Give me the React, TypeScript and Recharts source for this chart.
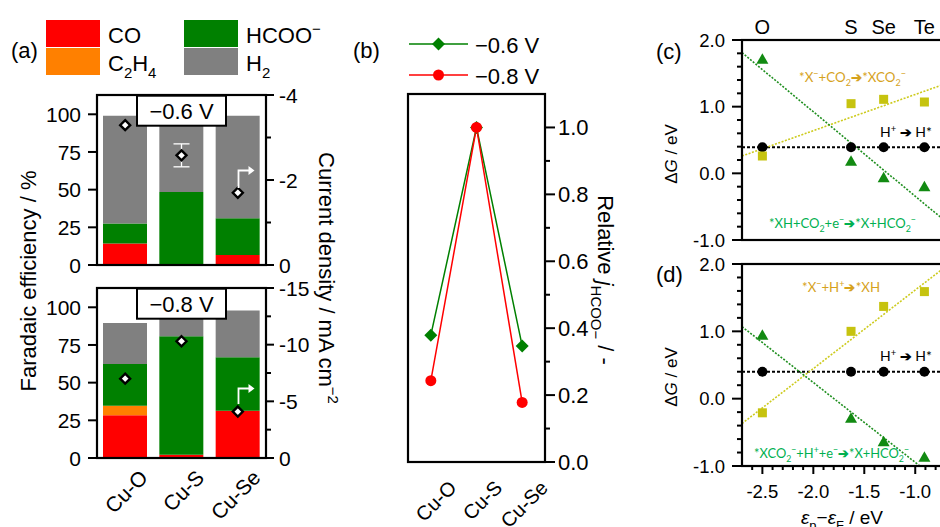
import React from "react";
import {
  ComposedChart,
  LineChart,
  ScatterChart,
  Bar,
  Line,
  Scatter,
  XAxis,
  YAxis,
  ErrorBar,
  ReferenceLine,
} from "recharts";

const FONT = '"Liberation Sans", Arial, Helvetica, sans-serif';
const NOTE = 'Lato, "Open Sans", sans-serif';

// (a) faradaic efficiency (%) per product, current density (mA cm-2)
const catalysts = ["Cu-O", "Cu-S", "Cu-Se"];
const coTop = [14.3, 0, 6.6];
const c2h4Top = [0, 0, 0];
const hcooTop = [13.3, 48.5, 24.4];
const h2Top = [71.4, 50.5, 68.0];
const jTop = [-3.29, -2.58, -1.7];
const jTopErr = [0, 0.27, 0];

const coBot = [28.3, 2.2, 31.4];
const c2h4Bot = [6.4, 0, 0];
const hcooBot = [27.7, 78.6, 35.4];
const h2Bot = [27.2, 18.5, 31.0];
const jBot = [-7.0, -10.3, -4.1];
const jBotErr = [0, 0, 0];

const feTicks = [0, 25, 50, 75, 100];
const jTicksTop = [-4, -3, -2, -1, 0];
const jTicksBot = [-15, -12.5, -10, -7.5, -5, -2.5, 0];

// (b) relative formate partial current
const relJ06 = [0.379, 1.0, 0.347];
const relJ08 = [0.243, 1.0, 0.178];
const relTicks = [0, 0.1, 0.2, 0.3, 0.4, 0.5, 0.6, 0.7, 0.8, 0.9, 1.0];

// (c), (d) free energies vs. p-band centre
const elements = ["O", "S", "Se", "Te"];
const eps = [-2.5, -1.63, -1.31, -0.91];
const hAdsC = [0.39, 0.39, 0.39, 0.39];
const xco2C = [0.26, 1.045, 1.11, 1.07];
const hco2C = [1.71, 0.18, -0.065, -0.2];
const hAdsD = [0.4, 0.4, 0.4, 0.4];
const xhD = [-0.21, 1.0, 1.37, 1.59];
const hco2D = [0.94, -0.29, -0.64, -0.87];
// dotted fit lines, end points
const fitX = [-2.7, -0.6];
const fitXco2C = [0.26, 1.4];
const fitHco2C = [1.81, -0.85];
const fitXhD = [-0.37, 2.08];
const fitHco2D = [1.07, -1.42];
const dgTicks = [-1, -0.8, -0.6, -0.4, -0.2, 0, 0.2, 0.4, 0.6, 0.8, 1, 1.2, 1.4, 1.6, 1.8, 2];
const epsTicks = [
  -2.6, -2.5, -2.4, -2.3, -2.2, -2.1, -2.0, -1.9, -1.8, -1.7, -1.6, -1.5, -1.4, -1.3, -1.2, -1.1,
  -1.0, -0.9, -0.8, -0.7,
];

const RED = "#ff0000";
const ORANGE = "#ff8000";
const GREEN = "#008000";
const GRAY = "#808080";
const OLIVE = "#c6c30f";
const OLIVE_LINE = "#cdcb1e";
const TRI = "#128a12";
const TRI_LINE = "#1f8f1f";
const GOLD_TXT = "#d6a21c";
const GREEN_TXT = "#00b050";

// plot rectangles (page coordinates)
const PA1 = { x: 97, y: 95, w: 169, h: 170 };
const PA2 = { x: 97, y: 288, w: 169, h: 170 };
const PB = { x: 408, y: 94, w: 137, h: 368 };
const PC = { x: 742, y: 40, w: 214, h: 200 };
const PD = { x: 742, y: 264, w: 214, h: 202 };

type Side = "left" | "right" | "top" | "bottom";
interface TickCfg {
  side: Side;
  len: number;
  minor: number;
  gap: number;
  fs: number;
  isMajor: (v: number) => boolean;
  fmt: (v: number) => string;
  sw?: number;
}

const tickRenderer = (c: TickCfg) => (p: any) => {
  const v = Number(p.payload.value);
  const major = c.isMajor(v);
  const l = major ? c.len : c.minor;
  const sw = c.sw ?? 2;
  const off = c.len + c.gap;
  let line = null;
  let label = null;
  const txt = { fontSize: c.fs, fontFamily: FONT, fill: "#000" };
  if (c.side === "left") {
    const ax = p.x + off;
    line = <line x1={ax} x2={ax - l} y1={p.y} y2={p.y} stroke="#000" strokeWidth={sw} />;
    label = <text x={p.x} y={p.y} dy="0.36em" textAnchor="end" {...txt}>{c.fmt(v)}</text>;
  } else if (c.side === "right") {
    const ax = p.x - off;
    line = <line x1={ax} x2={ax + l} y1={p.y} y2={p.y} stroke="#000" strokeWidth={sw} />;
    label = <text x={p.x} y={p.y} dy="0.36em" textAnchor="start" {...txt}>{c.fmt(v)}</text>;
  } else if (c.side === "bottom") {
    const ay = p.y - off;
    line = <line x1={p.x} x2={p.x} y1={ay} y2={ay + l} stroke="#000" strokeWidth={sw} />;
    label = <text x={p.x} y={p.y} dy="0.72em" textAnchor="middle" {...txt}>{c.fmt(v)}</text>;
  } else {
    const ay = p.y + off;
    line = l > 0 ? <line x1={p.x} x2={p.x} y1={ay} y2={ay - l} stroke="#000" strokeWidth={sw} /> : null;
    label = <text x={p.x} y={p.y} textAnchor="middle" {...txt}>{c.fmt(v)}</text>;
  }
  return (
    <g>
      {line}
      {major && label}
    </g>
  );
};

const tickProps = (c: TickCfg) => ({
  tick: tickRenderer(c),
  tickSize: c.len,
  tickMargin: c.gap,
  tickLine: false,
  axisLine: false,
  interval: 0 as const,
});

const catTick = (dx: number, dy: number, fs: number, names?: string[]) => (p: any) => {
  const x = p.x + dx;
  const y = p.y + dy;
  const t = names ? names[Number(p.payload.value)] : String(p.payload.value);
  return (
    <text x={x} y={y} transform={`rotate(-45 ${x} ${y})`} textAnchor="end" fontSize={fs} fontFamily={FONT} fill="#000">
      {t}
    </text>
  );
};

type Part = [string, ("sub" | "sup" | "i" | "b")?];
const Rich = ({ parts, fs }: { parts: Part[]; fs: number }) => {
  let cur = 0;
  return (
    <>
      {parts.map(([t, k], i) => {
        const target = k === "sub" ? fs * 0.3 : k === "sup" ? -fs * 0.4 : 0;
        const dy = target - cur;
        cur = target;
        const small = k === "sub" || k === "sup";
        return (
          <tspan
            key={i}
            dy={dy}
            fontSize={small ? fs * 0.68 : fs}
            fontStyle={k === "i" ? "italic" : undefined}
            fontWeight={k === "b" ? 900 : undefined}
          >
            {t}
          </tspan>
        );
      })}
    </>
  );
};

const diamondDot = (p: any) => {
  if (p.cx == null || p.cy == null) return <g key={p.index} />;
  const s = 5;
  const { cx, cy } = p;
  return (
    <polygon
      key={p.index}
      points={`${cx},${cy - s} ${cx + s},${cy} ${cx},${cy + s} ${cx - s},${cy}`}
      fill="#fff"
      stroke="#000"
      strokeWidth={2.4}
    />
  );
};

const greenDiamond = (p: any) => {
  const s = 6.5;
  const { cx, cy } = p;
  return (
    <polygon key={p.index} points={`${cx},${cy - s} ${cx + s},${cy} ${cx},${cy + s} ${cx - s},${cy}`} fill={GREEN} />
  );
};
const redCircle = (p: any) => <circle key={p.index} cx={p.cx} cy={p.cy} r={5.5} fill={RED} />;

const circleShape = (p: any) => <circle cx={p.cx} cy={p.cy} r={5} fill="#000" />;
const squareShape = (p: any) => <rect x={p.cx - 4.5} y={p.cy - 4.5} width={9} height={9} fill={OLIVE} />;
const triShape = (p: any) => (
  <polygon points={`${p.cx},${p.cy - 6} ${p.cx - 6},${p.cy + 4.5} ${p.cx + 6},${p.cy + 4.5}`} fill={TRI} />
);

const rowsTop = catalysts.map((c, i) => ({
  cat: c,
  co: coTop[i],
  c2h4: c2h4Top[i],
  hcoo: hcooTop[i],
  h2: h2Top[i],
  j: jTop[i],
  jErr: jTopErr[i],
}));
const rowsBot = catalysts.map((c, i) => ({
  cat: c,
  co: coBot[i],
  c2h4: c2h4Bot[i],
  hcoo: hcooBot[i],
  h2: h2Bot[i],
  j: jBot[i],
  jErr: jBotErr[i],
}));
const rowsB = catalysts.map((c, i) => ({ idx: i, v06: relJ06[i], v08: relJ08[i] }));
const pts = (ys: number[]) => eps.map((x, i) => ({ x, y: ys[i] }));

const abs: React.CSSProperties = { position: "absolute", left: 0, top: 0 };

function BarPanel({
  rows,
  rect,
  jMin,
  jTicks,
  jMajorStep,
  showX,
}: {
  rows: typeof rowsTop;
  rect: typeof PA1;
  jMin: number;
  jTicks: number[];
  jMajorStep: number;
  showX: boolean;
}) {
  const xh = showX ? 527 - rect.y - rect.h : 0;
  const pad = showX ? 0 : 14;
  return (
    <div style={abs}>
      <ComposedChart
        width={rect.x + rect.w + 74}
        height={rect.y + rect.h + xh + pad}
        data={rows}
        margin={{ top: rect.y, right: 0, bottom: pad, left: 0 }}
        barSize={44}
      >
        <XAxis
          dataKey="cat"
          hide={!showX}
          height={xh}
          tick={catTick(24, 21, 21)}
          tickSize={0}
          tickMargin={0}
          tickLine={false}
          axisLine={false}
          interval={0}
        />
        <YAxis
          yAxisId="fe"
          width={rect.x}
          domain={[0, 112.8]}
          ticks={feTicks}
          {...tickProps({ side: "left", len: 9, minor: 5, gap: 7, fs: 21, isMajor: () => true, fmt: (v) => String(v) })}
        />
        <YAxis
          yAxisId="j"
          orientation="right"
          width={74}
          domain={[jMin, 0]}
          reversed
          ticks={jTicks}
          {...tickProps({
            side: "right",
            len: 8,
            minor: 5,
            gap: 5,
            fs: 21,
            isMajor: (v) => Math.abs(v % jMajorStep) < 1e-6,
            fmt: (v) => String(v),
          })}
        />
        <Bar yAxisId="fe" dataKey="co" stackId="s" fill={RED} isAnimationActive={false} />
        <Bar yAxisId="fe" dataKey="c2h4" stackId="s" fill={ORANGE} isAnimationActive={false} />
        <Bar yAxisId="fe" dataKey="hcoo" stackId="s" fill={GREEN} isAnimationActive={false} />
        <Bar yAxisId="fe" dataKey="h2" stackId="s" fill={GRAY} isAnimationActive={false} />
        <Line
          yAxisId="j"
          dataKey="j"
          stroke="none"
          dot={diamondDot}
          activeDot={false}
          isAnimationActive={false}
        >
          <ErrorBar dataKey="jErr" width={8} stroke="#fff" strokeWidth={1.3} direction="y" />
        </Line>
      </ComposedChart>
    </div>
  );
}

function PanelB() {
  return (
    <div style={abs}>
      <LineChart
        width={PB.x + PB.w + 60}
        height={527}
        data={rowsB}
        margin={{ top: PB.y, right: 0, bottom: 0, left: PB.x }}
      >
        <XAxis
          dataKey="idx"
          type="number"
          domain={[-0.5, 2.5]}
          ticks={[0, 1, 2]}
          height={527 - PB.y - PB.h}
          tick={catTick(27, 27, 20, catalysts)}
          tickSize={0}
          tickMargin={0}
          tickLine={false}
          axisLine={false}
          interval={0}
        />
        <YAxis
          orientation="right"
          width={60}
          domain={[0, 1.1]}
          ticks={relTicks}
          {...tickProps({
            side: "right",
            len: 10,
            minor: 5,
            gap: 3,
            fs: 22,
            isMajor: (v) => Math.abs(v * 5 - Math.round(v * 5)) < 1e-6,
            fmt: (v) => v.toFixed(1),
          })}
        />
        <Line dataKey="v06" stroke={GREEN} strokeWidth={1.5} dot={greenDiamond} activeDot={false} isAnimationActive={false} />
        <Line dataKey="v08" stroke={RED} strokeWidth={1.5} dot={redCircle} activeDot={false} isAnimationActive={false} />
      </LineChart>
    </div>
  );
}

const dgAxis = tickProps({
  side: "left",
  len: 10,
  minor: 5,
  gap: 7,
  fs: 18.5,
  isMajor: (v) => Math.abs(v - Math.round(v)) < 1e-6,
  fmt: (v) => v.toFixed(1),
});

function EnergyPanel({
  rect,
  top,
  hAds,
  squares,
  tris,
  fitSq,
  fitTri,
}: {
  rect: typeof PC;
  top: boolean;
  hAds: number[];
  squares: number[];
  tris: number[];
  fitSq: number[];
  fitTri: number[];
}) {
  const xid = top ? "t" : "b";
  const xh = top ? 30 : 527 - rect.y - rect.h;
  const pad = top ? 14 : 0;
  return (
    <div style={abs}>
      <ScatterChart
        width={rect.x + rect.w + 4}
        height={top ? rect.y + rect.h + pad : 527}
        margin={{ top: top ? rect.y - xh : rect.y, right: 4, bottom: pad, left: rect.x - 60 }}
      >
        {top ? (
          <XAxis
            xAxisId={xid}
            orientation="top"
            type="number"
            dataKey="x"
            domain={[-2.7, -0.6]}
            ticks={eps}
            height={xh}
            {...tickProps({
              side: "top",
              len: 0,
              minor: 0,
              gap: 6,
              fs: 20,
              isMajor: () => true,
              fmt: (v) => elements[eps.indexOf(v)],
            })}
          />
        ) : (
          <XAxis
            xAxisId={xid}
            type="number"
            dataKey="x"
            domain={[-2.7, -0.6]}
            ticks={epsTicks}
            height={xh}
            {...tickProps({
              side: "bottom",
              len: 8,
              minor: 4,
              gap: 11,
              fs: 18.5,
              isMajor: (v) => Math.abs(v * 2 - Math.round(v * 2)) < 1e-6,
              fmt: (v) => v.toFixed(1),
            })}
          />
        )}
        <YAxis type="number" dataKey="y" width={60} domain={[-1, 2]} ticks={dgTicks} {...dgAxis} />
        <ReferenceLine xAxisId={xid} y={hAds[0]} stroke="#000" strokeWidth={2} strokeDasharray="3 2" />
        <ReferenceLine
          xAxisId={xid}
          segment={[
            { x: fitX[0], y: fitSq[0] },
            { x: fitX[1], y: fitSq[1] },
          ]}
          stroke={OLIVE_LINE}
          strokeWidth={1.6}
          strokeDasharray="2 1.5"
          ifOverflow="hidden"
        />
        <ReferenceLine
          xAxisId={xid}
          segment={[
            { x: fitX[0], y: fitTri[0] },
            { x: fitX[1], y: fitTri[1] },
          ]}
          stroke={TRI_LINE}
          strokeWidth={1.6}
          strokeDasharray="2 1.5"
          ifOverflow="hidden"
        />
        <Scatter xAxisId={xid} data={pts(hAds)} shape={circleShape} isAnimationActive={false} />
        <Scatter xAxisId={xid} data={pts(squares)} shape={squareShape} isAnimationActive={false} />
        <Scatter xAxisId={xid} data={pts(tris)} shape={triShape} isAnimationActive={false} />
      </ScatterChart>
    </div>
  );
}

function Note({ x, y, w, color, parts }: { x: number; y: number; w: number; color: string; parts: Part[] }) {
  return (
    <text x={x} y={y} fill={color} fontFamily={NOTE} fontSize={13} textLength={w} lengthAdjust="spacingAndGlyphs">
      <Rich fs={13} parts={parts} />
    </text>
  );
}

function Overlay() {
  const t = { fontFamily: FONT, fill: "#000" };
  const frame = (r: typeof PA1) => (
    <rect x={r.x} y={r.y} width={r.w} height={r.h} fill="none" stroke="#000" strokeWidth={2.2} />
  );
  const vBox = (r: typeof PA1, label: string) => (
    <g>
      <rect x={r.x + r.w / 2 - 44.5} y={r.y + 0.7} width={89} height={30} fill="#fff" stroke="#000" strokeWidth={2} />
      <text x={r.x + r.w / 2} y={r.y + 24} textAnchor="middle" fontSize={22} {...t}>
        {label}
      </text>
    </g>
  );
  const arrow = (x: number, y0: number, y1: number) => (
    <g stroke="#fff" strokeWidth={1.8} fill="none">
      <path d={`M${x} ${y0} V${y1} H${x + 11}`} />
      <polygon points={`${x + 10},${y1 - 4.5} ${x + 16},${y1} ${x + 10},${y1 + 4.5}`} fill="#fff" stroke="none" />
    </g>
  );
  return (
    <svg width={940} height={527} style={{ ...abs, pointerEvents: "none" }}>
      {/* (a) legend */}
      <rect x={46} y={20} width={54} height={27} fill={RED} />
      <rect x={46} y={48} width={54} height={27} fill={ORANGE} />
      <rect x={184} y={20} width={54} height={27} fill={GREEN} />
      <rect x={184} y={48} width={54} height={27} fill={GRAY} />
      <text x={108} y={43} fontSize={22} {...t}>CO</text>
      <text x={108} y={71} fontSize={22} {...t}>
        <Rich fs={22} parts={[["C"], ["2", "sub"], ["H"], ["4", "sub"]]} />
      </text>
      <text x={246} y={43} fontSize={22} {...t}>
        <Rich fs={22} parts={[["HCOO"], ["−", "sup"]]} />
      </text>
      <text x={246} y={71} fontSize={22} {...t}>
        <Rich fs={22} parts={[["H"], ["2", "sub"]]} />
      </text>
      <text x={11} y={58} fontSize={22} {...t}>(a)</text>
      <text x={353} y={58} fontSize={22} {...t}>(b)</text>
      <text x={656} y={59} fontSize={22} {...t}>(c)</text>
      <text x={656} y={282} fontSize={22} {...t}>(d)</text>

      {frame(PA1)}
      {frame(PA2)}
      {frame(PB)}
      {frame(PC)}
      {frame(PD)}
      {vBox(PA1, "−0.6 V")}
      {vBox(PA2, "−0.8 V")}
      {arrow(238.5, 188, 170.5)}
      {arrow(238.5, 404, 388.5)}

      <text transform="translate(36 281) rotate(-90)" textAnchor="middle" fontSize={22} {...t}>
        Faradaic efficiency / %
      </text>
      <text transform="translate(319 278) rotate(90)" textAnchor="middle" fontSize={22} {...t}>
        <Rich fs={22} parts={[["Current density / mA cm"], ["−2", "sup"]]} />
      </text>

      {/* (b) legend */}
      <line x1={409} x2={468} y1={44} y2={44} stroke={GREEN} strokeWidth={1.5} />
      <polygon points="438.5,37.5 445,44 438.5,50.5 432,44" fill={GREEN} />
      <text x={475} y={53} fontSize={22} {...t}>−0.6 V</text>
      <line x1={409} x2={468} y1={75} y2={75} stroke={RED} strokeWidth={1.5} />
      <circle cx={438.5} cy={75} r={5.5} fill={RED} />
      <text x={475} y={84} fontSize={22} {...t}>−0.8 V</text>
      <text transform="translate(598 280) rotate(90)" textAnchor="middle" fontSize={22} {...t}>
        <Rich fs={22} parts={[["Relative "], ["j", "i"], ["HCOO−", "sub"], [" / -"]]} />
      </text>

      {/* (c), (d) */}
      <text transform="translate(677 154) rotate(-90)" textAnchor="middle" fontSize={17} {...t}>
        <Rich fs={17} parts={[["Δ"], ["G", "i"], [" / eV"]]} />
      </text>
      <text transform="translate(677 377) rotate(-90)" textAnchor="middle" fontSize={17} {...t}>
        <Rich fs={17} parts={[["Δ"], ["G", "i"], [" / eV"]]} />
      </text>
      <text x={842} y={524} textAnchor="middle" fontSize={19} {...t}>
        <Rich fs={19} parts={[["ε", "i"], ["p", "sub"], ["−"], ["ε", "i"], ["F", "sub"], [" / eV"]]} />
      </text>

      <Note
        x={799}
        y={81.7}
        w={107}
        color={GOLD_TXT}
        parts={[["*X"], ["−", "sup"], ["+CO"], ["2", "sub"], ["➔", "b"], ["*XCO"], ["2", "sub"], ["−", "sup"]]}
      />
      <Note x={880} y={136.7} w={52} color="#000" parts={[["H"], ["+", "sup"], [" "], ["➔", "b"], [" H*"]]} />
      <Note
        x={769}
        y={227.7}
        w={147}
        color={GREEN_TXT}
        parts={[["*XH+CO"], ["2", "sub"], ["+e"], ["−", "sup"], ["➔", "b"], ["*X+HCO"], ["2", "sub"], ["−", "sup"]]}
      />
      <Note
        x={802}
        y={291.7}
        w={78}
        color={GOLD_TXT}
        parts={[["*X"], ["−", "sup"], ["+H"], ["+", "sup"], ["➔", "b"], ["*XH"]]}
      />
      <Note x={880} y={360.7} w={52} color="#000" parts={[["H"], ["+", "sup"], [" "], ["➔", "b"], [" H*"]]} />
      <Note
        x={754}
        y={458.3}
        w={155}
        color={GREEN_TXT}
        parts={[
          ["*XCO"],
          ["2", "sub"],
          ["−", "sup"],
          ["+H"],
          ["+", "sup"],
          ["+e"],
          ["−", "sup"],
          ["➔", "b"],
          ["*X+HCO"],
          ["2", "sub"],
          ["−", "sup"],
        ]}
      />
    </svg>
  );
}

export default function App() {
  return (
    <div style={{ position: "relative", width: 940, height: 527, overflow: "hidden", background: "#fff" }}>
      <style>{"body{margin:0}"}</style>
      <BarPanel rows={rowsTop} rect={PA1} jMin={-4} jTicks={jTicksTop} jMajorStep={2} showX={false} />
      <BarPanel rows={rowsBot} rect={PA2} jMin={-15} jTicks={jTicksBot} jMajorStep={5} showX />
      <PanelB />
      <EnergyPanel rect={PC} top hAds={hAdsC} squares={xco2C} tris={hco2C} fitSq={fitXco2C} fitTri={fitHco2C} />
      <EnergyPanel rect={PD} top={false} hAds={hAdsD} squares={xhD} tris={hco2D} fitSq={fitXhD} fitTri={fitHco2D} />
      <Overlay />
    </div>
  );
}
